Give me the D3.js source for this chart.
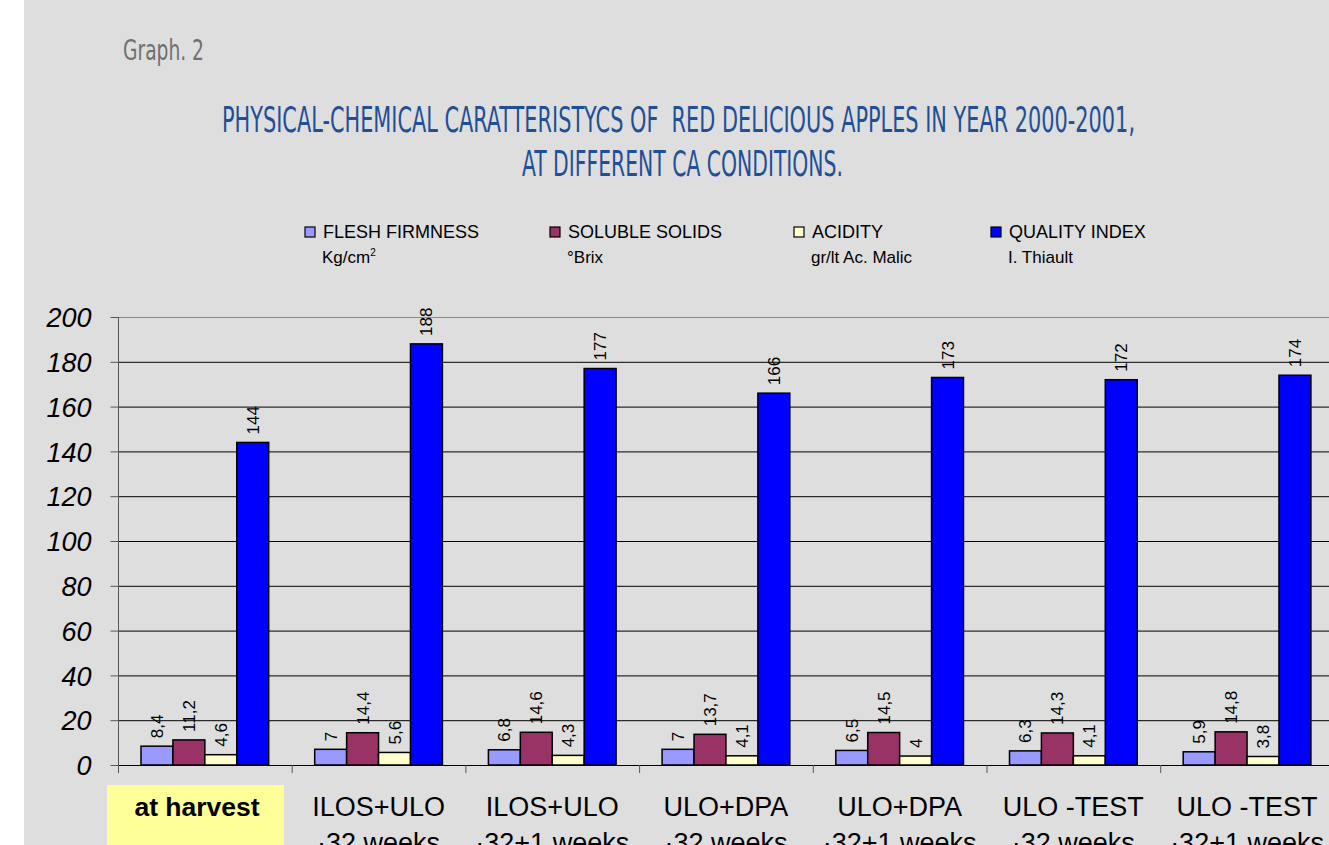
<!DOCTYPE html>
<html>
<head>
<meta charset="utf-8">
<script src="https://cdn.jsdelivr.net/npm/d3@7"></script>
<style>
  html, body { margin: 0; padding: 0; background: #ffffff; }
  svg { display: block; }
</style>
</head>
<body>
<svg id="chart" width="1329" height="845"></svg>
<script>
// Categories (storage conditions), two label lines each
const categories = ["at harvest", "ILOS+ULO 32", "ILOS+ULO 32+1", "ULO+DPA 32", "ULO+DPA 32+1", "ULO -TEST 32", "ULO -TEST 32+1"];
const categoryLine1 = ["at harvest", "ILOS+ULO", "ILOS+ULO", "ULO+DPA", "ULO+DPA", "ULO -TEST", "ULO -TEST"];
const categoryLine2 = ["", "·32 weeks", "·32+1 weeks", "·32 weeks", "·32+1 weeks", "·32 weeks", "·32+1 weeks"];

// Series
const seriesNames = ["FLESH FIRMNESS", "SOLUBLE SOLIDS", "ACIDITY", "QUALITY INDEX"];
const seriesUnits = ["Kg/cm", "°Brix", "gr/lt Ac. Malic", "I. Thiault"];
const seriesColors = ["#9999ff", "#993366", "#ffffcc", "#0000ff"];

const fleshFirmness = [8.4, 7, 6.8, 7, 6.5, 6.3, 5.9];
const solubleSolids = [11.2, 14.4, 14.6, 13.7, 14.5, 14.3, 14.8];
const acidity = [4.6, 5.6, 4.3, 4.1, 4, 4.1, 3.8];
const qualityIndex = [144, 188, 177, 166, 173, 172, 174];
const seriesValues = [fleshFirmness, solubleSolids, acidity, qualityIndex];

const yTicks = [0, 20, 40, 60, 80, 100, 120, 140, 160, 180, 200];

const svg = d3.select("#chart");
const W = 1329, H = 845;

// page background
svg.append("rect").attr("x", 24).attr("y", 0).attr("width", W - 24).attr("height", H).attr("fill", "#dedede");

// caption
svg.append("text")
  .attr("x", 123).attr("y", 60)
  .attr("font-family", "'Liberation Sans Narrow', 'DejaVu Sans Condensed', sans-serif")
  .attr("font-size", 29)
  .attr("fill", "#707070")
  .attr("textLength", 81).attr("lengthAdjust", "spacingAndGlyphs")
  .text("Graph. 2");

// title
const titleFont = "'Liberation Sans Narrow', 'DejaVu Sans Condensed', sans-serif";
svg.append("text")
  .attr("x", 222).attr("y", 132)
  .attr("font-family", titleFont).attr("font-size", 35).attr("fill", "#1f4f96")
  .attr("textLength", 913).attr("lengthAdjust", "spacingAndGlyphs")
  .attr("xml:space", "preserve")
  .text("PHYSICAL-CHEMICAL CARATTERISTYCS OF  RED DELICIOUS APPLES IN YEAR 2000-2001,");
svg.append("text")
  .attr("x", 522).attr("y", 176)
  .attr("font-family", titleFont).attr("font-size", 35).attr("fill", "#1f4f96")
  .attr("textLength", 321).attr("lengthAdjust", "spacingAndGlyphs")
  .text("AT DIFFERENT CA CONDITIONS.");

// legend
const legendX = [305, 550, 794, 991];
const legend = svg.append("g").attr("font-family", "'Liberation Sans', Arial, sans-serif").attr("fill", "#000");
seriesNames.forEach((name, i) => {
  legend.append("rect")
    .attr("x", legendX[i]).attr("y", 227).attr("width", 10).attr("height", 10)
    .attr("fill", seriesColors[i]).attr("stroke", "#000").attr("stroke-width", 1.2);
  legend.append("text").attr("x", legendX[i] + 18).attr("y", 238).attr("font-size", 18).text(name);
  const sub = legend.append("text").attr("x", legendX[i] + 17).attr("y", 263).attr("font-size", 17).text(seriesUnits[i]);
  if (i === 0) sub.append("tspan").attr("font-size", 10).attr("dy", -7).text("2");
});

// scales
const x0 = d3.scaleBand().domain(categories).range([118, 118 + 7 * 173.7]).padding(0);
const bw = x0.bandwidth();
const gap = 23;
const x1 = d3.scaleBand().domain(seriesNames).range([gap, bw - gap]).padding(0);
const y = d3.scaleLinear().domain([0, 200]).range([765, 317]);

// gridlines
const grid = svg.append("g");
grid.selectAll("line").data(yTicks.filter(t => t > 0)).join("line")
  .attr("x1", 118).attr("x2", W)
  .attr("y1", d => y(d) + 0.5).attr("y2", d => y(d) + 0.5)
  .attr("stroke", d => d === 200 ? "#8a8a8a" : "#000").attr("stroke-width", 1);

// y axis
const yAxis = svg.append("g").attr("transform", "translate(118.5,0)")
  .call(d3.axisLeft(y).tickValues(yTicks).tickSize(8).tickFormat(d3.format("d")));
yAxis.select(".domain").attr("stroke", "#555").attr("d", `M0,${y(200)}V773`);
yAxis.selectAll(".tick line").attr("stroke", "#555");
yAxis.selectAll(".tick text")
  .attr("x", -27).attr("dy", "0.36em")
  .attr("font-family", "'Liberation Sans', Arial, sans-serif")
  .attr("font-style", "italic").attr("font-size", 27).attr("fill", "#000");

// x axis line and category ticks
svg.append("line").attr("x1", 118).attr("x2", W).attr("y1", 765.5).attr("y2", 765.5).attr("stroke", "#000");
svg.append("g").selectAll("line").data(categories).join("line")
  .attr("x1", d => x0(d) + 0.5).attr("x2", d => x0(d) + 0.5)
  .attr("y1", 765).attr("y2", 773).attr("stroke", "#555");

// bars
const groups = svg.append("g").selectAll("g").data(categories).join("g")
  .attr("transform", d => `translate(${x0(d)},0)`);
groups.selectAll("rect")
  .data((d, ci) => seriesNames.map((s, si) => ({ s, si, v: seriesValues[si][ci] })))
  .join("rect")
  .attr("x", d => x1(d.s))
  .attr("y", d => y(d.v))
  .attr("width", x1.bandwidth())
  .attr("height", d => y(0) - y(d.v))
  .attr("fill", d => seriesColors[d.si])
  .attr("stroke", "#000").attr("stroke-width", 1.5);

// value labels (rotated, decimal comma)
const fmt = v => String(v).replace(".", ",");
groups.selectAll("text.val")
  .data((d, ci) => seriesNames.map((s, si) => ({ s, si, v: seriesValues[si][ci] })))
  .join("text").attr("class", "val")
  .attr("transform", d => `translate(${x1(d.s) + x1.bandwidth() / 2 + 6},${y(d.v) - 8}) rotate(-90)`)
  .attr("font-family", "'Liberation Sans', Arial, sans-serif")
  .attr("font-size", 17).attr("fill", "#000")
  .text(d => fmt(d.v));

// category labels
svg.append("rect").attr("x", 107).attr("y", 785).attr("width", 177).attr("height", 70).attr("fill", "#ffff99");
const catLabels = svg.append("g").attr("font-family", "'Liberation Sans', Arial, sans-serif").attr("fill", "#000").attr("text-anchor", "middle");
categories.forEach((c, i) => {
  const cx = x0(c) + bw / 2;
  catLabels.append("text").attr("x", i === 0 ? 197 : cx).attr("y", 816)
    .attr("font-size", i === 0 ? 26.5 : 27).attr("font-weight", i === 0 ? "bold" : "normal")
    .text(categoryLine1[i]);
  if (categoryLine2[i]) {
    catLabels.append("text").attr("x", cx).attr("y", 852).attr("font-size", 27).text(categoryLine2[i]);
  }
});
</script>
</body>
</html>
